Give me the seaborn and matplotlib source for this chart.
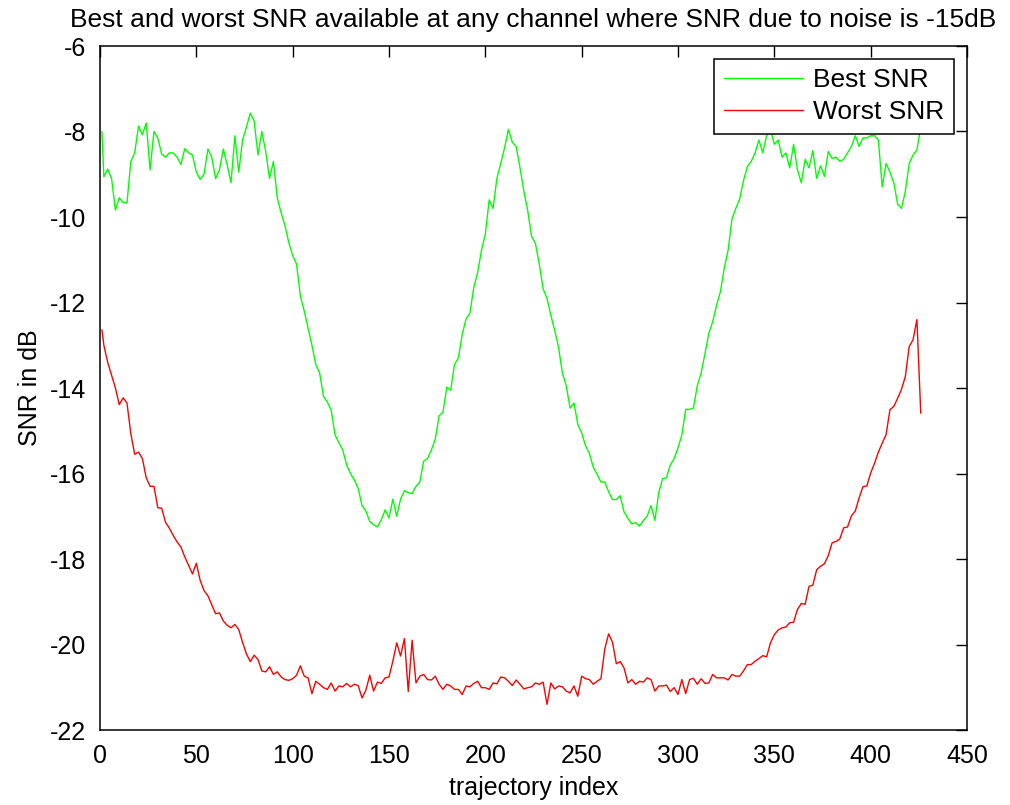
import numpy as np
import pandas as pd
import matplotlib
matplotlib.use("Agg")
import matplotlib.pyplot as plt
from matplotlib.lines import Line2D
import seaborn as sns

# trajectory index (first sample, then every second sample)
trajectory_index = [1] + list(range(2, 427, 2))

best_snr = [
    -8.0,
    -9.06, -8.88, -9.1, -9.84, -9.55, -9.66, -9.67, -8.7, -8.5, -7.87,
    -8.08, -7.8, -8.9, -8.0, -8.15, -8.53, -8.6, -8.5, -8.5, -8.6,
    -8.77, -8.4, -8.5, -8.55, -8.95, -9.12, -9.0, -8.41, -8.6, -9.1,
    -8.9, -8.41, -8.78, -9.2, -8.1, -8.95, -8.2, -7.9, -7.57, -7.75,
    -8.55, -8.0, -8.47, -9.1, -8.7, -9.55, -9.9, -10.2, -10.6, -10.9,
    -11.1, -11.85, -12.2, -12.6, -13.0, -13.45, -13.65, -14.2, -14.33, -14.52,
    -15.1, -15.28, -15.45, -15.8, -16.0, -16.15, -16.35, -16.75, -16.88, -17.12,
    -17.2, -17.25, -17.08, -16.85, -17.04, -16.6, -17.0, -16.6, -16.4, -16.45,
    -16.47, -16.3, -16.2, -15.71, -15.65, -15.45, -15.2, -14.65, -14.57, -13.98,
    -14.05, -13.45, -13.3, -12.75, -12.38, -12.25, -11.65, -11.3, -10.78, -10.4,
    -9.6, -9.8, -9.1, -8.75, -8.38, -7.95, -8.25, -8.35, -8.85, -9.4,
    -9.85, -10.45, -10.62, -11.1, -11.68, -11.9, -12.3, -12.65, -13.05, -13.65,
    -13.95, -14.47, -14.35, -14.85, -15.05, -15.35, -15.53, -15.85, -16.02, -16.2,
    -16.2, -16.43, -16.61, -16.61, -16.52, -16.9, -17.05, -17.18, -17.15, -17.23,
    -17.1, -17.0, -16.75, -17.1, -16.45, -16.12, -16.1, -15.8, -15.65, -15.4,
    -15.1, -14.5, -14.5, -14.47, -13.95, -13.65, -13.2, -12.72, -12.45, -12.07,
    -11.75, -11.2, -10.78, -10.05, -9.8, -9.58, -9.15, -8.82, -8.7, -8.5,
    -8.2, -8.5, -8.1, -7.95, -8.3, -8.2, -8.6, -8.5, -8.85, -8.3,
    -8.9, -9.2, -8.65, -8.85, -8.45, -9.1, -8.8, -9.05, -8.47, -8.63,
    -8.6, -8.7, -8.65, -8.5, -8.35, -8.1, -8.35, -8.15, -8.15, -8.1,
    -8.1, -8.2, -9.3, -8.75, -8.95, -9.2, -9.7, -9.8, -9.4, -8.75,
    -8.55, -8.43, -7.9,
]

worst_snr = [
    -12.64,
    -13.0, -13.4, -13.7, -14.0, -14.39, -14.23, -14.35, -15.07, -15.55, -15.5,
    -15.65, -16.1, -16.3, -16.3, -16.8, -16.81, -17.14, -17.28, -17.45, -17.6,
    -17.72, -17.95, -18.15, -18.35, -18.1, -18.5, -18.74, -18.86, -19.07, -19.28,
    -19.26, -19.45, -19.55, -19.61, -19.53, -19.65, -19.95, -20.22, -20.4, -20.25,
    -20.35, -20.62, -20.64, -20.52, -20.7, -20.64, -20.76, -20.82, -20.84, -20.8,
    -20.72, -20.5, -20.74, -20.78, -21.15, -20.86, -20.93, -21.01, -21.05, -20.9,
    -21.09, -20.97, -20.99, -20.91, -20.99, -20.93, -20.96, -21.25, -21.07, -20.72,
    -21.09, -20.88, -20.91, -20.78, -20.76, -20.39, -19.96, -20.27, -19.86, -21.1,
    -19.9, -20.9, -20.74, -20.70, -20.82, -20.83, -20.74, -20.93, -21.05, -20.93,
    -20.97, -21.05, -21.05, -21.17, -20.97, -20.99, -20.91, -20.86, -21.01, -21.01,
    -21.05, -20.9, -20.92, -20.76, -20.78, -20.86, -20.96, -20.83, -20.93, -21.04,
    -21.01, -20.99, -20.9, -20.93, -20.88, -21.4, -20.9, -21.04, -20.97, -20.99,
    -21.09, -21.13, -20.97, -21.21, -20.74, -20.8, -20.82, -20.93, -20.86, -20.8,
    -20.1, -19.75, -19.95, -20.45, -20.4, -20.55, -20.9, -20.82, -20.93, -20.86,
    -20.88, -20.78, -20.82, -21.09, -20.97, -20.97, -20.95, -21.1, -21.01, -21.17,
    -20.82, -21.15, -20.82, -20.79, -20.93, -20.8, -20.91, -20.9, -20.7, -20.78,
    -20.78, -20.78, -20.83, -20.7, -20.74, -20.74, -20.62, -20.47, -20.47, -20.39,
    -20.33, -20.26, -20.29, -19.96, -19.77, -19.66, -19.61, -19.59, -19.49, -19.48,
    -19.18, -19.04, -19.06, -18.64, -18.61, -18.25, -18.17, -18.11, -17.92, -17.62,
    -17.59, -17.53, -17.27, -17.25, -16.99, -16.88, -16.57, -16.31, -16.29, -15.99,
    -15.76, -15.5, -15.29, -15.09, -14.51, -14.43, -14.24, -14.03, -13.73, -13.03,
    -12.87, -12.4, -14.59,
]

series_names = ["Best SNR", "Worst SNR"]
series_colors = {"Best SNR": "#00ff00", "Worst SNR": "#ff0000"}
x_ticks = list(range(0, 451, 50))
y_ticks = list(range(-22, -5, 2))

sns.set_style("white")
plt.rcParams["font.family"] = ["Liberation Sans", "DejaVu Sans"]
plt.rcParams["axes.unicode_minus"] = False
plt.rcParams["text.color"] = "black"
plt.rcParams["axes.labelcolor"] = "black"

df = pd.DataFrame({
    "trajectory index": trajectory_index * 2,
    "SNR": best_snr + worst_snr,
    "series": [series_names[0]] * len(best_snr) + [series_names[1]] * len(worst_snr),
})

fig = plt.figure(figsize=(10.1, 8.05), dpi=100)
ax = fig.add_axes([100 / 1010, 1 - 730 / 805, 867 / 1010, 684 / 805])

sns.lineplot(data=df, x="trajectory index", y="SNR", hue="series",
             palette=series_colors, linewidth=1.0, ax=ax, legend=False,
             estimator=None, sort=False)

ax.set_xlim(0, 450)
ax.set_ylim(-22, -6)
ax.set_xticks(x_ticks)
ax.set_yticks(y_ticks)
ax.set_xticklabels([str(t) for t in x_ticks])
ax.set_yticklabels([str(t) for t in y_ticks])
ax.tick_params(direction="in", top=True, right=True, length=8, width=1.0,
               labelsize=18, pad=10, colors="black")
for s in ax.spines.values():
    s.set_visible(True)
    s.set_color("black")
    s.set_linewidth(1.1)

ax.set_xlabel("trajectory index", fontsize=18, labelpad=6, color="black")
ax.set_ylabel("SNR in dB", fontsize=18, labelpad=6, color="black")
ax.set_title("Best and worst SNR available at any channel where SNR due to noise is -15dB",
             fontsize=19, pad=14, color="black")

handles = [Line2D([], [], color=series_colors[n], linewidth=1.0) for n in series_names]
leg = ax.legend(handles, series_names, loc="upper right", fontsize=19,
                frameon=True, fancybox=False, framealpha=1, edgecolor="black",
                handlelength=3.0, handletextpad=0.4, borderaxespad=0.5,
                labelspacing=0.3, borderpad=0.35)
leg.get_frame().set_linewidth(1.1)
for t in leg.get_texts():
    t.set_color("black")

fig.savefig("out.png", dpi=100, facecolor="white")
